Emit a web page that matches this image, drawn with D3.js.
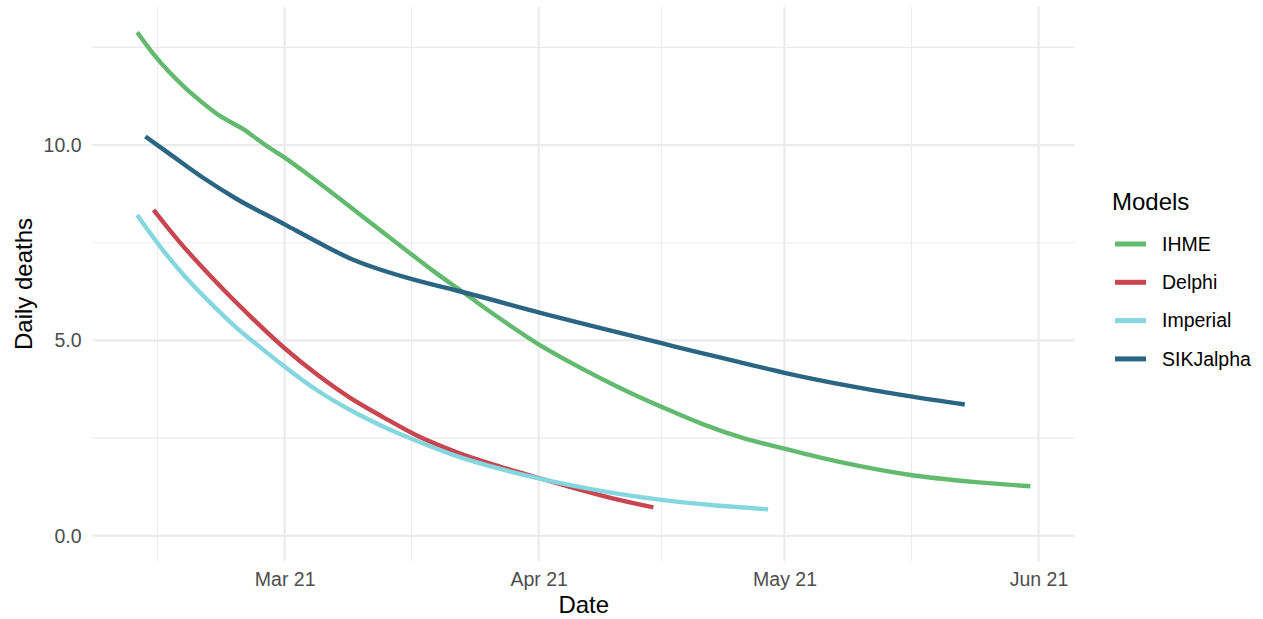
<!DOCTYPE html>
<html lang="en">
<head>
<meta charset="UTF-8">
<title>Daily deaths by model</title>
<script src="https://d3js.org/d3.v7.min.js"></script>
<style>
  body { margin: 0; background: #fff; }
  text { font-family: "Liberation Sans", Arial, Helvetica, sans-serif; }
</style>
</head>
<body>
<div id="chart"></div>
<script>
// data (date, daily deaths)
const models = ["IHME", "Delphi", "Imperial", "SIKJalpha"];
const colors = ["#62BA6E", "#C8464F", "#84D6DF", "#2A6583"];

const ihmeDates = ["2021-02-11","2021-02-13","2021-02-15","2021-02-17","2021-02-19","2021-02-21","2021-02-23",
  "2021-02-24","2021-02-25","2021-02-27","2021-03-01","2021-03-04","2021-03-08","2021-03-12","2021-03-16",
  "2021-03-19","2021-03-23","2021-03-27","2021-04-01","2021-04-06","2021-04-10","2021-04-13","2021-04-16",
  "2021-04-21","2021-04-26","2021-05-01","2021-05-08","2021-05-16","2021-05-24","2021-05-31"];
const ihmeValues = [12.89, 12.33, 11.85, 11.44, 11.08, 10.76, 10.52,
  10.40, 10.25, 9.95, 9.68, 9.22, 8.58, 7.93, 7.28,
  6.80, 6.20, 5.60, 4.90, 4.31, 3.88, 3.58, 3.30,
  2.86, 2.50, 2.23, 1.88, 1.57, 1.38, 1.27];

const delphiDates = ["2021-02-13","2021-02-16","2021-02-19","2021-02-22","2021-02-25","2021-03-01","2021-03-05",
  "2021-03-09","2021-03-13","2021-03-17","2021-03-22","2021-03-27","2021-04-01","2021-04-05","2021-04-10",
  "2021-04-15"];
const delphiValues = [8.34, 7.56, 6.86, 6.20, 5.58, 4.80, 4.12,
  3.53, 3.04, 2.58, 2.14, 1.79, 1.48, 1.24, 0.96,
  0.73];

const imperialDates = ["2021-02-11","2021-02-14","2021-02-17","2021-02-20","2021-02-23","2021-02-26","2021-03-01",
  "2021-03-05","2021-03-09","2021-03-13","2021-03-17","2021-03-22","2021-03-27","2021-04-01","2021-04-05",
  "2021-04-10","2021-04-16","2021-04-22","2021-04-29"];
const imperialValues = [8.21, 7.35, 6.60, 5.95, 5.35, 4.83, 4.33,
  3.72, 3.22, 2.80, 2.44, 2.04, 1.73, 1.47, 1.29,
  1.10, 0.92, 0.79, 0.68];

const sikjDates = ["2021-02-12","2021-02-15","2021-02-19","2021-02-23","2021-03-01","2021-03-05","2021-03-09",
  "2021-03-12","2021-03-16","2021-03-21","2021-03-24","2021-04-01","2021-04-16","2021-04-20","2021-04-25",
  "2021-05-01","2021-05-16","2021-05-23"];
const sikjValues = [10.22, 9.77, 9.17, 8.64, 7.97, 7.52, 7.10,
  6.86, 6.60, 6.33, 6.17, 5.72, 4.93, 4.72, 4.47,
  4.17, 3.58, 3.36];

const yTicks = [0, 2.5, 5, 7.5, 10, 12.5];
const yLabelled = [0, 5, 10];
const xTickDates = ["2021-03-01","2021-04-01","2021-05-01","2021-06-01"];
const xMinorDates = ["2021-02-13T12:00","2021-03-16T12:00","2021-04-16","2021-05-16T12:00"];

const parse = d3.isoParse;
const series = [
  {name: models[0], dates: ihmeDates, values: ihmeValues},
  {name: models[1], dates: delphiDates, values: delphiValues},
  {name: models[2], dates: imperialDates, values: imperialValues},
  {name: models[3], dates: sikjDates, values: sikjValues}
].map((s, i) => ({
  name: s.name,
  color: colors[i],
  points: s.dates.map((d, j) => ({date: parse(d), value: s.values[j]}))
}));

const W = 1263, H = 619;
const panel = {left: 92.5, right: 1075, top: 7, bottom: 561};

const svg = d3.select("#chart").append("svg")
  .attr("width", W).attr("height", H);

// ggplot-like 5% expansion of the data range
const allPts = series.flatMap(s => s.points);
const [d0, d1] = d3.extent(allPts, p => p.date);
const padX = (d1 - d0) * 0.05;
const x = d3.scaleTime()
  .domain([new Date(+d0 - padX), new Date(+d1 + padX)])
  .range([panel.left, panel.right]);

const yMax = d3.max(allPts, p => p.value);
const padY = (yMax - 0) * 0.05;
const y = d3.scaleLinear()
  .domain([0 - padY, yMax + padY])
  .range([panel.bottom, panel.top]);

// grid
const grid = svg.append("g");
grid.append("g").selectAll("line").data(yTicks.filter(v => !yLabelled.includes(v)))
  .join("line")
  .attr("x1", panel.left).attr("x2", panel.right)
  .attr("y1", d => y(d)).attr("y2", d => y(d))
  .attr("stroke", "#EBEBEB").attr("stroke-width", 1.1);
grid.append("g").selectAll("line").data(xMinorDates.map(parse))
  .join("line")
  .attr("x1", d => x(d)).attr("x2", d => x(d))
  .attr("y1", panel.top).attr("y2", panel.bottom)
  .attr("stroke", "#EBEBEB").attr("stroke-width", 1.1);
grid.append("g").selectAll("line").data(yLabelled)
  .join("line")
  .attr("x1", panel.left).attr("x2", panel.right)
  .attr("y1", d => y(d)).attr("y2", d => y(d))
  .attr("stroke", "#EBEBEB").attr("stroke-width", 2.2);
grid.append("g").selectAll("line").data(xTickDates.map(parse))
  .join("line")
  .attr("x1", d => x(d)).attr("x2", d => x(d))
  .attr("y1", panel.top).attr("y2", panel.bottom)
  .attr("stroke", "#EBEBEB").attr("stroke-width", 2.2);

// axes (labels only, like theme_minimal)
const xAxis = svg.append("g")
  .attr("transform", `translate(0,${panel.bottom})`)
  .call(d3.axisBottom(x).tickValues(xTickDates.map(parse))
    .tickFormat(d3.timeFormat("%b %y")).tickSize(0).tickPadding(11));
const yAxis = svg.append("g")
  .attr("transform", `translate(${panel.left},0)`)
  .call(d3.axisLeft(y).tickValues(yLabelled)
    .tickFormat(d3.format(".1f")).tickSize(0).tickPadding(11));
[xAxis, yAxis].forEach(a => {
  a.select(".domain").remove();
  a.selectAll("text")
    .attr("fill", "#4D4D4D")
    .style("font-size", "19.5px")
    .style("font-family", "'Liberation Sans', Arial, sans-serif");
});

// lines
const line = d3.line()
  .curve(d3.curveMonotoneX)
  .x(d => x(d.date))
  .y(d => y(d.value));

svg.append("g").selectAll("path").data(series)
  .join("path")
  .attr("fill", "none")
  .attr("stroke", d => d.color)
  .attr("stroke-width", 4.4)
  .attr("d", d => line(d.points));

// axis titles
svg.append("text")
  .attr("x", (panel.left + panel.right) / 2).attr("y", 613)
  .attr("text-anchor", "middle")
  .style("font-size", "24px")
  .text("Date");
svg.append("text")
  .attr("transform", `translate(32,${(panel.top + panel.bottom) / 2}) rotate(-90)`)
  .attr("text-anchor", "middle")
  .style("font-size", "24px")
  .text("Daily deaths");

// legend
const legend = svg.append("g").attr("transform", "translate(1112,0)");
legend.append("text")
  .attr("x", 0).attr("y", 210)
  .style("font-size", "24px")
  .text("Models");
const item = legend.selectAll("g.item").data(series)
  .join("g")
  .attr("transform", (d, i) => `translate(0,${244 + i * 38.3})`);
item.append("line")
  .attr("x1", 3).attr("x2", 34)
  .attr("stroke", d => d.color).attr("stroke-width", 5);
item.append("text")
  .attr("x", 50).attr("dy", "0.35em")
  .style("font-size", "19.5px")
  .text(d => d.name);
</script>
</body>
</html>
